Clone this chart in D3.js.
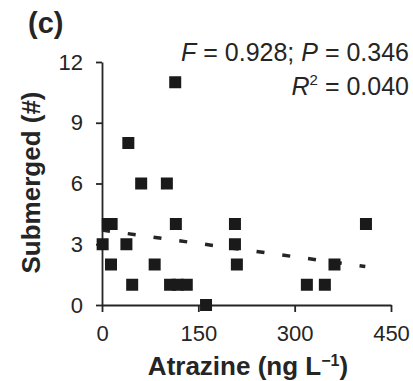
<!DOCTYPE html>
<html>
<head>
<meta charset="utf-8">
<script src="https://cdn.jsdelivr.net/npm/d3@7"></script>
<style>
  html, body { margin: 0; padding: 0; background: #fff; }
  svg { display: block; font-family: "Liberation Sans", Arial, sans-serif; }
</style>
</head>
<body>
<div id="chart"></div>
<script>
// atrazine (ng/L) vs submerged count
const atrazine  = [114, 41, 61, 101, 9, 15, 115, 207, 411, 1, 38, 207, 14, 82, 210, 362, 47, 106, 118, 132, 319, 347, 162];
const submerged = [11,  8,  6,  6,   4, 4,  4,   4,   4,   3, 3,  3,   2,  2,  2,   2,   1,  1,   1,   1,   1,   1,   0];

// fitted trend line end points
const trendX = [0, 410];
const trendY = [3.7, 1.9];

const xTicks = [0, 150, 300, 450];
const yTicks = [0, 3, 6, 9, 12];

const W = 413, H = 381;
const m = { left: 102, right: 22, top: 62, bottom: 76 };

const svg = d3.select('#chart').append('svg')
  .attr('width', W).attr('height', H);

const x = d3.scaleLinear().domain([0, 450]).range([m.left, W - m.right]);
const y = d3.scaleLinear().domain([0, 12]).range([H - m.bottom, m.top]);

const ink = '#252525';

// axes
const xAxis = svg.append('g')
  .attr('transform', `translate(0,${H - m.bottom})`)
  .call(d3.axisBottom(x).tickValues(xTicks).tickSize(7).tickPadding(13).tickSizeOuter(0));
const yAxis = svg.append('g')
  .attr('transform', `translate(${m.left},0)`)
  .call(d3.axisLeft(y).tickValues(yTicks).tickSize(6).tickPadding(13).tickSizeOuter(0));

[xAxis, yAxis].forEach(g => {
  g.select('.domain').attr('stroke', ink).attr('stroke-width', 1.8);
  g.selectAll('.tick line').attr('stroke', ink).attr('stroke-width', 1.8);
  g.selectAll('.tick text').attr('fill', ink).style('font-size', '22px')
    .style('font-family', '"Liberation Sans", Arial, sans-serif');
});

// trend line (dashed)
svg.append('line')
  .attr('x1', x(trendX[0])).attr('y1', y(trendY[0]))
  .attr('x2', x(trendX[1])).attr('y2', y(trendY[1]))
  .attr('stroke', ink).attr('stroke-width', 3.5)
  .attr('stroke-dasharray', '8,18');

// points
const S = 12;
svg.append('g').selectAll('rect')
  .data(atrazine.map((d, i) => ({ x: d, y: submerged[i] })))
  .enter().append('rect')
  .attr('x', d => x(d.x) - S / 2)
  .attr('y', d => y(d.y) - S / 2)
  .attr('width', S).attr('height', S)
  .attr('fill', '#1a1a1a');

// panel label
svg.append('text')
  .attr('x', 28).attr('y', 33)
  .attr('fill', ink).style('font-size', '29px').style('font-weight', 700)
  .text('(c)');

// stats
const st1 = svg.append('text')
  .attr('x', 409).attr('y', 61).attr('text-anchor', 'end')
  .attr('fill', ink).style('font-size', '25px');
st1.append('tspan').style('font-style', 'italic').text('F');
st1.append('tspan').text(' = 0.928; ');
st1.append('tspan').style('font-style', 'italic').text('P');
st1.append('tspan').text(' = 0.346');

const st2 = svg.append('text')
  .attr('x', 409).attr('y', 95).attr('text-anchor', 'end')
  .attr('fill', ink).style('font-size', '25px');
st2.append('tspan').style('font-style', 'italic').text('R');
st2.append('tspan').attr('dy', -10).style('font-size', '15px').text('2');
st2.append('tspan').attr('dy', 10).text(' = 0.040');

// axis titles
const xt = svg.append('text')
  .attr('x', 248).attr('y', 375).attr('text-anchor', 'middle')
  .attr('fill', ink).style('font-size', '26px').style('font-weight', 700);
xt.append('tspan').text('Atrazine (ng L');
xt.append('tspan').attr('dy', -9).style('font-size', '16px').text('−1');
xt.append('tspan').attr('dy', 9).text(')');

svg.append('text')
  .attr('transform', `translate(40,${(m.top + H - m.bottom) / 2 - 1}) rotate(-90)`)
  .attr('text-anchor', 'middle')
  .attr('fill', ink).style('font-size', '26px').style('font-weight', 700)
  .text('Submerged (#)');
</script>
</body>
</html>
